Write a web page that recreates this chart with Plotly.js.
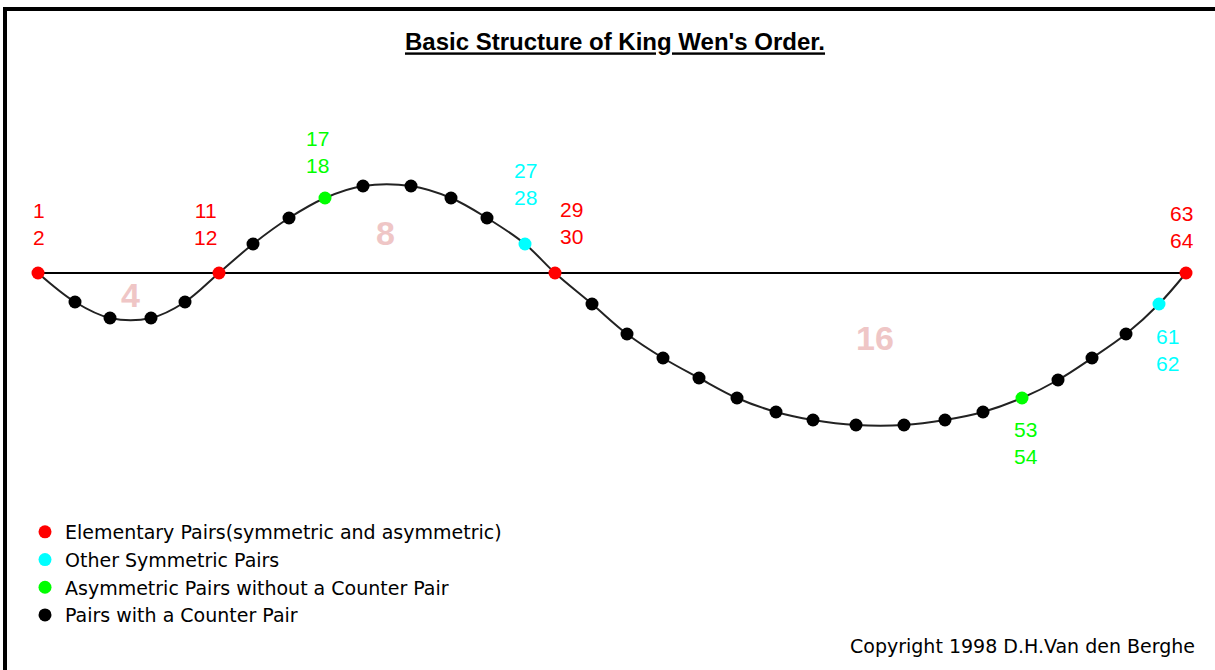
<!DOCTYPE html>
<html>
<head>
<meta charset="utf-8">
<script src="https://cdn.plot.ly/plotly-3.0.1.min.js"></script>
<style>
  html, body { margin: 0; padding: 0; background: #ffffff; }
  #chart { width: 1215px; height: 670px; }
</style>
</head>
<body>
<div id="chart"></div>
<script>
// ---- Data ----
// First hexagram number of each pair (pair = n, n+1)
const pairStart = [1, 3, 5, 7, 9, 11, 13, 15, 17, 19, 21, 23, 25, 27, 29, 31,
                   33, 35, 37, 39, 41, 43, 45, 47, 49, 51, 53, 55, 57, 59, 61, 63];
// Horizontal position of each pair along the wave (arbitrary units)
const pairX = [38, 75, 110, 151, 185, 219, 253, 289, 325, 363, 411, 451, 487, 525, 555, 592,
               627, 663, 699, 737, 776, 813, 856, 904, 945, 983, 1022, 1058, 1092, 1126, 1159, 1186];
// Displacement of each pair above (+) / below (-) the axis line
const pairY = [0, -29, -45, -45, -29, 0, 29, 55, 75, 87, 87, 75, 55, 29, 0, -31,
               -61, -85, -105, -125, -139, -147, -152, -152, -147, -139, -125, -107, -85, -61, -31, 0];
// Category of each pair: E = elementary, S = other symmetric, A = asymmetric w/o counter pair, C = with counter pair
const pairKind = ['E', 'C', 'C', 'C', 'C', 'E', 'C', 'C', 'A', 'C', 'C', 'C', 'C', 'S', 'E', 'C',
                  'C', 'C', 'C', 'C', 'C', 'C', 'C', 'C', 'C', 'C', 'A', 'C', 'C', 'C', 'S', 'E'];
// Legend categories
const kindCodes  = ['E', 'S', 'A', 'C'];
const kindNames  = ['Elementary Pairs(symmetric and asymmetric)', 'Other Symmetric Pairs',
                    'Asymmetric Pairs without a Counter Pair', 'Pairs with a Counter Pair'];
// Section sizes (number of pairs between elementary pairs) and where they are written
const sectionLabels = ['4', '8', '16'];
const sectionX = [130, 385, 875];
const sectionY = [-22, 40, -65];

const titleText = "Basic Structure of King Wen's Order.";
const copyrightText = 'Copyright 1998 D.H.Van den Berghe';

// ---- Styles ----
const kindColors = { E: '#ff0000', S: '#00ffff', A: '#00ff00', C: '#000000' };
// pixel offsets of the pair-number labels (center of the two-line block) relative to their point
const labelOffset = { 1: [1, -49], 11: [-14, -49], 17: [-8, -46], 27: [0, -60], 29: [16, -50],
                      53: [4, 45], 61: [8, 46], 63: [-4, -46] };

const W = 1215, H = 670;
const traces = [];

// axis line between the first and last elementary pair
traces.push({
  x: [pairX[0], pairX[pairX.length - 1]], y: [0, 0],
  mode: 'lines', line: { color: '#000000', width: 2 },
  showlegend: false, hoverinfo: 'skip'
});
// the wave
traces.push({
  x: pairX, y: pairY, mode: 'lines',
  line: { color: '#222222', width: 2, shape: 'spline', smoothing: 1 },
  showlegend: false, hoverinfo: 'skip'
});
// points by category
kindCodes.forEach((k, ki) => {
  const xs = [], ys = [];
  pairX.forEach((x, i) => { if (pairKind[i] === k) { xs.push(x); ys.push(pairY[i]); } });
  traces.push({
    x: xs, y: ys, mode: 'markers', name: kindNames[ki],
    legendgroup: 'g' + ki,
    marker: { color: kindColors[k], size: 13, line: { width: 0 } },
    hoverinfo: 'skip'
  });
});

const annotations = [];
pairStart.forEach((p, i) => {
  const k = pairKind[i];
  if (k === 'C') return;
  const off = labelOffset[p] || [0, -45];
  annotations.push({
    x: pairX[i], y: pairY[i], xref: 'x', yref: 'y',
    text: p + '<br>' + (p + 1), showarrow: false,
    xanchor: 'center', yanchor: 'middle', align: 'center',
    xshift: off[0], yshift: -off[1],
    font: { family: 'Liberation Sans, Arial, sans-serif', size: 21, color: kindColors[k] }
  });
});
sectionLabels.forEach((t, i) => {
  annotations.push({
    x: sectionX[i], y: sectionY[i], xref: 'x', yref: 'y', text: t, showarrow: false,
    xanchor: 'center', yanchor: 'middle',
    font: { family: 'Liberation Sans, Arial, sans-serif', size: 34, color: '#efc6c6', weight: 'bold' }
  });
});
annotations.push({
  x: 1197 / W, y: 1 - 646 / H, xref: 'paper', yref: 'paper', text: copyrightText,
  showarrow: false, xanchor: 'right', yanchor: 'middle',
  font: { family: 'DejaVu Sans, sans-serif', size: 19, color: '#000000' }
});

const layout = {
  width: W, height: H, autosize: false,
  margin: { l: 0, r: 0, t: 0, b: 0, pad: 0 },
  paper_bgcolor: '#ffffff', plot_bgcolor: '#ffffff',
  title: {
    text: '<u>' + titleText + '</u>',
    x: 615 / W, xanchor: 'center', xref: 'paper',
    y: 1 - 42 / H, yanchor: 'middle', yref: 'container',
    font: { family: 'Liberation Sans, Arial, sans-serif', size: 24, color: '#000000', weight: 'bold' }
  },
  xaxis: { range: [0, W], visible: false, fixedrange: true },
  yaxis: { range: [273 - H, 273], visible: false, fixedrange: true },
  showlegend: true,
  legend: {
    x: 25 / W, y: 1 - 513 / H, xanchor: 'left', yanchor: 'top',
    bgcolor: 'rgba(0,0,0,0)', borderwidth: 0,
    font: { family: 'DejaVu Sans, sans-serif', size: 19, color: '#000000' },
    tracegroupgap: 0, itemclick: false, itemdoubleclick: false
  },
  shapes: [
    { type: 'line', xref: 'paper', yref: 'paper', x0: 5 / W, x1: 5 / W, y0: 0, y1: 1 - 7 / H,
      line: { color: '#000000', width: 4 } },
    { type: 'line', xref: 'paper', yref: 'paper', x0: 3 / W, x1: 1, y0: 1 - 9 / H, y1: 1 - 9 / H,
      line: { color: '#000000', width: 4 } }
  ],
  annotations: annotations,
  hovermode: false
};

Plotly.newPlot('chart', traces, layout, { staticPlot: true, displayModeBar: false });
</script>
</body>
</html>
